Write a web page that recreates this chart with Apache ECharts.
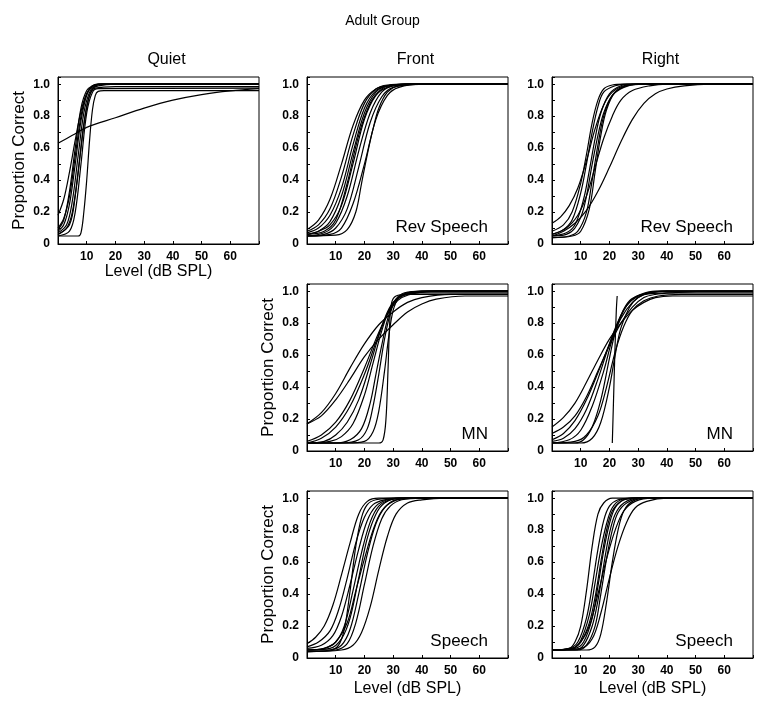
<!DOCTYPE html>
<html>
<head>
<meta charset="utf-8">
<script src="https://cdn.jsdelivr.net/npm/echarts@6/dist/echarts.min.js"></script>
<style>
html,body{margin:0;padding:0;background:#fff;}
#chart{width:765px;height:709px;}
</style>
</head>
<body>
<div id="chart"></div>
<script>
// ---------- tick labels ----------
const xTickLabels = [10, 20, 30, 40, 50, 60];
const yTickLabels = [0, 0.2, 0.4, 0.6, 0.8, 1.0];

// ---------- data: each curve is a list of [level dB SPL, proportion correct] ----------
const quietCurves = [
  [[0,0.18],[2,0.28],[4,0.45],[6,0.65],[8,0.83],[10,0.94],[12,0.985],[15,1.0],[70,1.0]],
  [[0,0.10],[2,0.16],[4,0.30],[6,0.55],[8,0.80],[10,0.94],[12,0.99],[14,1.0],[70,1.0]],
  [[0,0.08],[2,0.12],[4,0.25],[6,0.50],[8,0.77],[10,0.93],[12,0.985],[15,1.0],[70,1.0]],
  [[0,0.07],[3,0.12],[5,0.27],[7,0.55],[9,0.82],[11,0.95],[13,0.99],[16,1.0],[70,1.0]],
  [[0,0.06],[3,0.10],[5,0.20],[7,0.45],[9,0.75],[11,0.93],[13,0.975],[20,0.985],[70,0.985]],
  [[0,0.06],[4,0.12],[6,0.30],[8,0.60],[10,0.86],[12,0.97],[14,0.99],[20,1.0],[70,1.0]],
  [[0,0.05],[4,0.08],[6,0.20],[8,0.50],[10,0.82],[12,0.95],[14,0.972],[70,0.975]],
  [[0,0.05],[7,0.05],[8,0.07],[9,0.20],[10,0.40],[11,0.65],[12,0.84],[13,0.93],[14,0.955],[16,0.96],[70,0.96]],
  [[0,0.63],[5,0.68],[10,0.73],[20,0.79],[30,0.85],[40,0.90],[50,0.935],[60,0.958],[70,0.972]],
  [[0,0.09],[2,0.15],[4,0.33],[6,0.60],[8,0.85],[10,0.96],[12,0.99],[14,1.0],[70,1.0]]
];

const frontRevCurves = [
  [[0,0.09],[4,0.15],[8,0.28],[12,0.50],[16,0.74],[20,0.90],[24,0.97],[28,0.99],[35,1.0],[70,1.0]],
  [[0,0.08],[4,0.12],[8,0.22],[12,0.42],[16,0.68],[20,0.88],[24,0.97],[28,0.995],[35,1.0],[70,1.0]],
  [[0,0.07],[4,0.10],[8,0.18],[12,0.35],[16,0.62],[20,0.85],[24,0.96],[28,0.99],[35,1.0],[70,1.0]],
  [[0,0.06],[4,0.08],[8,0.14],[12,0.30],[16,0.57],[20,0.82],[24,0.95],[28,0.99],[35,1.0],[70,1.0]],
  [[0,0.06],[4,0.08],[8,0.12],[12,0.24],[16,0.50],[20,0.78],[24,0.93],[28,0.98],[35,1.0],[70,1.0]],
  [[0,0.05],[6,0.07],[10,0.13],[14,0.30],[18,0.58],[22,0.82],[26,0.95],[30,0.99],[38,1.0],[70,1.0]],
  [[0,0.05],[6,0.06],[10,0.10],[14,0.22],[18,0.48],[22,0.76],[26,0.92],[30,0.98],[40,1.0],[70,1.0]],
  [[0,0.05],[8,0.06],[12,0.10],[16,0.25],[20,0.50],[24,0.78],[28,0.93],[32,0.98],[40,1.0],[70,1.0]],
  [[0,0.05],[10,0.055],[14,0.09],[17,0.20],[19,0.38],[21,0.56],[23,0.72],[25,0.85],[28,0.95],[32,0.99],[42,1.0],[70,1.0]],
  [[0,0.06],[6,0.08],[10,0.15],[14,0.38],[18,0.68],[22,0.88],[26,0.97],[30,0.995],[36,1.0],[70,1.0]]
];

const rightRevCurves = [
  [[0,0.13],[3,0.17],[6,0.24],[9,0.35],[12,0.52],[15,0.72],[18,0.87],[21,0.95],[25,0.99],[30,1.0],[70,1.0]],
  [[0,0.08],[4,0.12],[7,0.20],[10,0.38],[12,0.56],[14,0.76],[16,0.90],[18,0.97],[21,0.995],[25,1.0],[70,1.0]],
  [[0,0.06],[4,0.09],[7,0.15],[10,0.32],[12,0.50],[14,0.70],[16,0.86],[18,0.95],[22,0.99],[26,1.0],[70,1.0]],
  [[0,0.05],[5,0.07],[8,0.12],[11,0.28],[13,0.46],[15,0.66],[17,0.82],[20,0.94],[24,0.99],[28,1.0],[70,1.0]],
  [[0,0.05],[5,0.06],[8,0.10],[11,0.22],[14,0.50],[16,0.68],[18,0.82],[21,0.93],[25,0.98],[30,1.0],[70,1.0]],
  [[0,0.04],[6,0.05],[9,0.08],[12,0.20],[14,0.40],[16,0.62],[18,0.80],[21,0.93],[25,0.985],[30,1.0],[70,1.0]],
  [[0,0.04],[7,0.05],[10,0.08],[13,0.22],[15,0.45],[17,0.68],[19,0.84],[22,0.95],[26,0.99],[32,1.0],[70,1.0]],
  [[0,0.06],[5,0.10],[9,0.18],[12,0.30],[15,0.48],[18,0.66],[21,0.80],[24,0.90],[28,0.96],[34,0.99],[40,1.0],[70,1.0]],
  [[0,0.05],[4,0.08],[8,0.13],[12,0.21],[16,0.33],[20,0.48],[24,0.64],[28,0.78],[32,0.88],[36,0.94],[40,0.97],[46,0.99],[55,1.0],[70,1.0]]
];

const frontMNCurves = [
  [[0,0.17],[5,0.24],[10,0.36],[15,0.52],[20,0.67],[25,0.79],[30,0.87],[35,0.93],[40,0.96],[50,0.98],[70,0.98]],
  [[0,0.17],[5,0.22],[10,0.32],[15,0.45],[20,0.59],[25,0.70],[30,0.79],[35,0.87],[40,0.92],[45,0.95],[55,0.97],[70,0.97]],
  [[0,0.06],[5,0.10],[10,0.18],[15,0.32],[20,0.52],[24,0.70],[27,0.82],[30,0.91],[33,0.96],[38,0.99],[45,1.0],[70,1.0]],
  [[0,0.05],[5,0.08],[10,0.15],[15,0.28],[20,0.48],[24,0.68],[27,0.82],[30,0.92],[33,0.97],[38,0.99],[45,1.0],[70,1.0]],
  [[0,0.05],[6,0.06],[10,0.10],[14,0.18],[18,0.32],[22,0.54],[25,0.72],[28,0.87],[31,0.95],[35,0.99],[42,1.0],[70,1.0]],
  [[0,0.05],[10,0.05],[15,0.07],[19,0.14],[22,0.30],[24,0.48],[26,0.66],[28,0.82],[30,0.92],[33,0.97],[38,0.99],[70,0.99]],
  [[0,0.05],[12,0.05],[18,0.07],[21,0.14],[23,0.28],[25,0.48],[27,0.70],[29,0.86],[31,0.95],[34,0.99],[40,1.0],[70,1.0]],
  [[0,0.05],[14,0.05],[20,0.06],[23,0.12],[25,0.25],[27,0.50],[28.5,0.72],[30,0.88],[32,0.96],[35,0.99],[40,1.0],[70,1.0]],
  [[0,0.05],[25,0.05],[26.5,0.07],[27.5,0.20],[28.2,0.50],[28.8,0.80],[29.5,0.93],[31,0.97],[35,0.98],[70,0.98]],
  [[0,0.05],[8,0.06],[12,0.09],[16,0.17],[20,0.35],[23,0.55],[26,0.75],[29,0.90],[32,0.96],[36,0.99],[42,1.0],[70,1.0]]
];

const rightMNCurves = [
  [[0,0.15],[4,0.21],[8,0.30],[12,0.43],[16,0.57],[20,0.70],[24,0.80],[28,0.88],[32,0.93],[36,0.96],[42,0.97],[70,0.97]],
  [[0,0.11],[4,0.15],[8,0.22],[12,0.34],[16,0.50],[20,0.66],[24,0.80],[28,0.90],[32,0.96],[36,0.98],[42,0.99],[55,1.0],[70,1.0]],
  [[0,0.07],[4,0.11],[8,0.19],[12,0.32],[16,0.49],[20,0.67],[24,0.83],[28,0.93],[32,0.98],[38,1.0],[70,1.0]],
  [[0,0.06],[4,0.08],[8,0.14],[12,0.26],[16,0.45],[20,0.67],[23,0.81],[26,0.91],[30,0.97],[34,0.99],[40,1.0],[70,1.0]],
  [[0,0.05],[6,0.07],[10,0.13],[14,0.28],[18,0.50],[21,0.70],[24,0.85],[27,0.94],[31,0.98],[36,1.0],[70,1.0]],
  [[0,0.05],[8,0.05],[11,0.07],[14,0.15],[17,0.32],[20,0.58],[22,0.74],[25,0.88],[28,0.95],[32,0.98],[40,0.99],[70,0.99]],
  [[0,0.05],[8,0.06],[12,0.10],[16,0.22],[19,0.40],[22,0.62],[25,0.78],[28,0.88],[32,0.94],[37,0.97],[45,0.98],[70,0.98]],
  [[0,0.05],[10,0.05],[14,0.08],[17,0.18],[20,0.40],[22,0.60],[24,0.77],[27,0.90],[30,0.96],[34,0.99],[40,1.0],[70,1.0]],
  [[21.0,0.05],[21.4,0.30],[21.9,0.62],[22.4,0.88],[22.7,0.97]]
];

const frontSpeechCurves = [
  [[0,0.09],[3,0.13],[6,0.20],[9,0.33],[12,0.52],[15,0.72],[18,0.90],[21,0.98],[25,1.0],[70,1.0]],
  [[0,0.07],[4,0.10],[8,0.17],[11,0.30],[14,0.50],[17,0.72],[20,0.88],[23,0.96],[27,0.99],[32,1.0],[70,1.0]],
  [[0,0.06],[5,0.08],[9,0.14],[12,0.26],[15,0.46],[18,0.68],[21,0.86],[24,0.95],[28,0.99],[33,1.0],[70,1.0]],
  [[0,0.05],[6,0.06],[10,0.10],[13,0.20],[16,0.42],[19,0.66],[22,0.85],[25,0.95],[29,0.99],[35,1.0],[70,1.0]],
  [[0,0.05],[8,0.05],[11,0.08],[13,0.18],[15,0.42],[17,0.70],[19,0.88],[21,0.96],[24,0.99],[30,1.0],[70,1.0]],
  [[0,0.05],[6,0.06],[10,0.10],[14,0.22],[17,0.42],[20,0.62],[23,0.80],[26,0.92],[30,0.98],[36,1.0],[70,1.0]],
  [[0,0.04],[8,0.05],[12,0.08],[15,0.18],[18,0.40],[21,0.65],[24,0.84],[27,0.94],[31,0.99],[38,1.0],[70,1.0]],
  [[0,0.04],[10,0.05],[14,0.09],[17,0.22],[20,0.46],[23,0.70],[26,0.87],[29,0.95],[33,0.99],[40,1.0],[70,1.0]],
  [[0,0.04],[12,0.05],[16,0.08],[19,0.16],[22,0.32],[25,0.55],[28,0.76],[31,0.90],[35,0.97],[40,0.99],[48,1.0],[70,1.0]],
  [[0,0.05],[8,0.06],[12,0.12],[15,0.25],[18,0.50],[21,0.75],[24,0.90],[27,0.97],[32,1.0],[70,1.0]]
];

const rightSpeechCurves = [
  [[0,0.05],[6,0.06],[8,0.10],[10,0.20],[12,0.42],[14,0.70],[16,0.90],[18,0.97],[21,1.0],[70,1.0]],
  [[0,0.05],[6,0.06],[9,0.10],[12,0.25],[14,0.45],[16,0.68],[18,0.86],[20,0.95],[23,0.99],[28,1.0],[70,1.0]],
  [[0,0.05],[7,0.06],[10,0.11],[13,0.27],[15,0.47],[17,0.68],[19,0.84],[21,0.94],[24,0.99],[28,1.0],[70,1.0]],
  [[0,0.05],[7,0.06],[10,0.10],[13,0.22],[15,0.38],[17,0.60],[19,0.80],[21,0.92],[24,0.98],[28,1.0],[70,1.0]],
  [[0,0.05],[8,0.06],[11,0.10],[14,0.25],[16,0.45],[18,0.67],[20,0.84],[22,0.94],[25,0.99],[30,1.0],[70,1.0]],
  [[0,0.05],[8,0.05],[11,0.08],[14,0.20],[16,0.36],[18,0.58],[20,0.78],[22,0.90],[25,0.97],[30,1.0],[70,1.0]],
  [[0,0.05],[9,0.05],[12,0.08],[15,0.20],[17,0.40],[19,0.62],[21,0.80],[23,0.91],[26,0.97],[31,1.0],[70,1.0]],
  [[0,0.05],[7,0.06],[10,0.10],[13,0.20],[16,0.40],[19,0.62],[22,0.80],[25,0.92],[29,0.98],[35,1.0],[70,1.0]],
  [[0,0.05],[12,0.05],[15,0.07],[17,0.15],[19,0.35],[21,0.60],[23,0.80],[25,0.92],[28,0.98],[33,1.0],[70,1.0]],
  [[0,0.05],[10,0.06],[14,0.12],[17,0.28],[20,0.50],[23,0.70],[26,0.85],[29,0.94],[33,0.98],[40,1.0],[70,1.0]]
];

const panelLabels = ['', 'Rev Speech', 'Rev Speech', 'MN', 'MN', 'Speech', 'Speech'];
const columnTitles = ['Quiet', 'Front', 'Right'];
const mainTitle = 'Adult Group';
const yAxisName = 'Proportion Correct';
const xAxisName = 'Level (dB SPL)';

// ---------- layout (pixels) ----------
const colLeft = [58, 307, 552];
const rowTop = [77, 284, 491];
const boxW = 201, boxH = 167;
const layout = [
  {col:0,row:0,yName:true, xName:true},
  {col:1,row:0,yName:false,xName:false},
  {col:2,row:0,yName:false,xName:false},
  {col:1,row:1,yName:true, xName:false},
  {col:2,row:1,yName:false,xName:false},
  {col:1,row:2,yName:true, xName:true},
  {col:2,row:2,yName:false,xName:true}
];
const panelCurves = [quietCurves, frontRevCurves, rightRevCurves, frontMNCurves, rightMNCurves, frontSpeechCurves, rightSpeechCurves];

const FONT = 'Liberation Sans, Arial, Helvetica, sans-serif';

const grids = [], xAxes = [], yAxes = [], series = [], graphics = [];
layout.forEach((p, i) => {
  const left = colLeft[p.col], top = rowTop[p.row];
  grids.push({left: left, top: top, width: boxW, height: boxH, show: true,
    borderColor: '#000', borderWidth: 1, backgroundColor: 'transparent', containLabel: false});
  xAxes.push({
    type: 'value', gridIndex: i, min: 0, max: 70, interval: 10,
    axisLine: {show: true, onZero: false, lineStyle: {color: '#000', width: 1}},
    axisTick: {show: true, inside: true, length: 3, lineStyle: {color: '#000', width: 1}},
    axisLabel: {color: '#000', fontSize: 12, fontWeight: 'bold', fontFamily: FONT, margin: 7,
      formatter: v => xTickLabels.indexOf(Math.round(v)) >= 0 && Math.abs(v - Math.round(v)) < 1e-6 ? String(Math.round(v)) : ''},
    splitLine: {show: false},
    name: p.xName ? xAxisName : '', nameLocation: 'middle', nameGap: p.row === 2 ? 23 : 20,
    nameTextStyle: {color: '#000', fontSize: 16, fontFamily: FONT}
  });
  yAxes.push({
    type: 'value', gridIndex: i, min: 0, max: 1.045, interval: 0.1,
    axisLine: {show: true, onZero: false, lineStyle: {color: '#000', width: 1}},
    axisTick: {show: true, inside: true, length: 3, lineStyle: {color: '#000', width: 1}},
    axisLabel: {color: '#000', fontSize: 12, fontWeight: 'bold', fontFamily: FONT, margin: 8,
      formatter: v => {
        const hit = yTickLabels.find(t => Math.abs(t - v) < 1e-6);
        if (hit === undefined) return '';
        return hit === 0 ? '0' : hit.toFixed(1);
      }},
    splitLine: {show: false},
    name: p.yName ? yAxisName : '', nameLocation: 'middle', nameGap: 30,
    nameTextStyle: {color: '#000', fontSize: 17, fontFamily: FONT}
  });
  panelCurves[i].forEach(curve => {
    series.push({
      type: 'line', xAxisIndex: i, yAxisIndex: i, data: curve,
      smooth: 0.35, showSymbol: false, symbol: 'none', silent: true,
      lineStyle: {color: '#000', width: 1.2}, animation: false, clip: true
    });
  });
  if (panelLabels[i]) {
    graphics.push({
      type: 'text', right: 765 - (left + boxW) + 20, top: top + boxH - 25, silent: true,
      style: {text: panelLabels[i], font: '17px ' + FONT, fill: '#000'}
    });
  }
});

const titles = [{text: mainTitle, left: 'center', top: 9,
  textStyle: {fontSize: 14, fontWeight: 'normal', color: '#000', fontFamily: FONT}}];
columnTitles.forEach((t, c) => {
  titles.push({text: t, left: colLeft[c] + boxW / 2 + 3, top: 47, textAlign: 'center',
    textStyle: {fontSize: 16, fontWeight: 'normal', color: '#000', fontFamily: FONT}});
});

const chart = echarts.init(document.getElementById('chart'), null, {renderer: 'canvas'});
chart.setOption({
  animation: false,
  backgroundColor: '#fff',
  title: titles,
  grid: grids,
  xAxis: xAxes,
  yAxis: yAxes,
  series: series,
  graphic: graphics
});
</script>
</body>
</html>
